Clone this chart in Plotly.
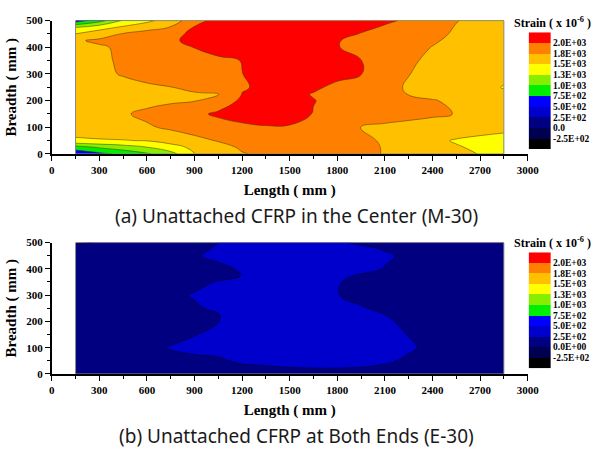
import plotly.graph_objects as go

# ---------------- data ----------------
length_mm = [150, 300, 450, 600, 750, 900, 1050, 1200, 1350, 1500, 1650,
             1800, 1950, 2100, 2250, 2400, 2550, 2700, 2850]

# (a) M-30 : rows follow breadth_top
breadth_top = [0, 25, 50, 100, 150, 200, 225, 250, 300, 350, 400, 425, 450, 475, 500]
strain_m30 = [
    [560, 680, 812, 965, 1158, 1495, 1617, 1735, 1790, 1810, 1820, 1815, 1790, 1741, 1680, 1617, 1555, 1493, 1430],
    [880, 1032, 1137, 1243, 1409, 1555, 1670, 1780, 1830, 1850, 1850, 1830, 1800, 1738, 1665, 1592, 1520, 1460, 1420],
    [1480, 1485, 1490, 1510, 1590, 1680, 1765, 1820, 1860, 1880, 1870, 1840, 1800, 1722, 1640, 1555, 1480, 1440, 1420],
    [1560, 1600, 1660, 1720, 1790, 1860, 1920, 1960, 1985, 1985, 1940, 1850, 1740, 1700, 1670, 1650, 1640, 1600, 1560],
    [1580, 1650, 1725, 1799, 1879, 1958, 2030, 2080, 2100, 2070, 1993, 1950, 1910, 1868, 1826, 1785, 1743, 1710, 1680],
    [1600, 1620, 1650, 1680, 1710, 1735, 1897, 2030, 2060, 2050, 2005, 1958, 1910, 1860, 1810, 1763, 1710, 1680, 1660],
    [1610, 1630, 1655, 1680, 1700, 1720, 1725, 2005, 2050, 2045, 1991, 1929, 1867, 1805, 1743, 1690, 1660, 1630, 1560],
    [1620, 1640, 1680, 1720, 1745, 1827, 1905, 1982, 2040, 2060, 2030, 1960, 1885, 1808, 1730, 1680, 1650, 1620, 1480],
    [1620, 1700, 1766, 1812, 1859, 1905, 1952, 1998, 2060, 2100, 2090, 2050, 2005, 1877, 1755, 1690, 1650, 1620, 1600],
    [1640, 1720, 1773, 1820, 1865, 1910, 1960, 2005, 2080, 2120, 2100, 2060, 2003, 1890, 1780, 1710, 1670, 1640, 1620],
    [1650, 1720, 1794, 1865, 1935, 2005, 2080, 2150, 2200, 2180, 2100, 2008, 1941, 1875, 1810, 1745, 1700, 1670, 1640],
    [1720, 1790, 1851, 1913, 1975, 2040, 2110, 2170, 2210, 2210, 2150, 2010, 1948, 1889, 1829, 1770, 1710, 1680, 1650],
    [1505, 1639, 1768, 1855, 1945, 2040, 2110, 2170, 2220, 2230, 2180, 2090, 1987, 1920, 1855, 1790, 1730, 1690, 1660],
    [1245, 1400, 1537, 1650, 1760, 2015, 2100, 2180, 2230, 2230, 2200, 2120, 2060, 1974, 1895, 1818, 1740, 1680, 1650],
    [600, 900, 1283, 1445, 1619, 1890, 2100, 2150, 2200, 2200, 2180, 2130, 2080, 2040, 1967, 1860, 1757, 1700, 1660],
]

# (b) E-30 : rows follow breadth_bot
breadth_bot = [0, 25, 50, 100, 150, 200, 225, 250, 300, 350, 375, 400, 450, 475, 500]
strain_e30 = [
    [80, 90, 100, 110, 120, 125, 130, 135, 140, 145, 145, 140, 135, 130, 125, 120, 115, 110, 100],
    [100, 110, 115, 120, 125, 135, 150, 175, 205, 248, 262, 262, 245, 190, 140, 125, 120, 115, 110],
    [110, 115, 120, 125, 130, 130, 194, 314, 380, 380, 380, 380, 380, 306, 186, 140, 130, 120, 115],
    [115, 120, 125, 154, 274, 380, 380, 380, 380, 380, 380, 380, 380, 375, 300, 150, 125, 120, 115],
    [115, 120, 120, 125, 130, 234, 354, 380, 380, 380, 380, 380, 380, 345, 240, 135, 125, 120, 115],
    [115, 120, 120, 125, 125, 130, 245, 370, 380, 380, 380, 380, 380, 298, 178, 130, 125, 120, 115],
    [115, 120, 120, 125, 125, 120, 238, 358, 380, 380, 380, 380, 370, 252, 130, 125, 120, 115, 110],
    [115, 120, 120, 125, 125, 202, 322, 380, 380, 380, 380, 380, 282, 162, 125, 120, 120, 115, 110],
    [115, 120, 120, 120, 160, 280, 380, 380, 380, 380, 380, 262, 142, 125, 120, 120, 115, 115, 110],
    [115, 120, 120, 120, 125, 154, 274, 380, 380, 380, 380, 274, 154, 125, 120, 120, 115, 115, 110],
    [115, 120, 120, 120, 125, 125, 138, 258, 378, 380, 380, 338, 218, 125, 120, 120, 115, 115, 110],
    [115, 120, 120, 120, 125, 125, 170, 290, 380, 380, 380, 380, 354, 234, 125, 120, 115, 115, 110],
    [110, 115, 120, 120, 125, 212, 332, 380, 380, 380, 380, 380, 380, 300, 175, 125, 120, 115, 110],
    [100, 115, 120, 120, 125, 170, 290, 380, 380, 380, 380, 380, 345, 225, 130, 125, 120, 115, 110],
    [-20, 10, 110, 120, 120, 126, 246, 366, 380, 380, 380, 301, 181, 125, 120, 120, 115, 115, 110],
]

level_start, level_end, level_step = -250, 2000, 250
band_colors = ["#000000", "#000050", "#000080", "#0000cc", "#0000ff", "#00ee00",
               "#88ee00", "#ffff00", "#ffc000", "#ff8000", "#ff0000"]
legend_labels_top = ["-2.5E+02", "0.0", "2.5E+02", "5.0E+02", "7.5E+02",
                     "1.0E+03", "1.3E+03", "1.5E+03", "1.8E+03", "2.0E+03"]
legend_labels_bot = ["-2.5E+02", "0.0E+00", "2.5E+02", "5.0E+02", "7.5E+02",
                     "1.0E+03", "1.3E+03", "1.5E+03", "1.8E+03", "2.0E+03"]
caption_a = "(a) Unattached CFRP in the Center (M-30)"
caption_b = "(b) Unattached CFRP at Both Ends (E-30)"

# ---------------- helpers ----------------
nb = len(band_colors)
scale = []
for k, c in enumerate(band_colors):
    lo = max(0.0, (k - 0.5) / (nb - 1))
    hi = min(1.0, (k + 0.5) / (nb - 1))
    scale += [[lo, c], [hi, c]]

W, H = 605, 453
def px_x(p): return p / W
def px_y(p): return 1 - p / H

serif = "Liberation Serif"
tickfont = dict(family=serif, size=11, color="black", weight="bold")
titlefont = dict(family=serif, size=15, color="black", weight="bold")

fig = go.Figure()

contour_common = dict(
    colorscale=scale, showscale=False, autocontour=False,
    contours=dict(start=level_start, end=level_end, size=level_step, coloring="fill",
                  showlines=True),
    hoverinfo="skip",
)
fig.add_trace(go.Contour(x=length_mm, y=breadth_top, z=strain_m30, xaxis="x", yaxis="y",
                         line=dict(color="rgba(70,50,0,0.85)", width=0.6, smoothing=1.3),
                         **contour_common))
fig.add_trace(go.Contour(x=length_mm, y=breadth_bot, z=strain_e30, xaxis="x2", yaxis="y2",
                         line=dict(color="rgba(0,0,40,0.9)", width=0.6, smoothing=1.3),
                         **contour_common))

band_idx = list(range(nb))
for xa, ya in (("x3", "y3"), ("x4", "y4")):
    fig.add_trace(go.Heatmap(x=[0], y=band_idx, z=[[k] for k in band_idx], xaxis=xa, yaxis=ya,
                             colorscale=scale, zmin=0, zmax=nb - 1, showscale=False,
                             hoverinfo="skip"))

def main_x(domain_anchor):
    return dict(domain=[px_x(50), px_x(538)], anchor=domain_anchor, range=[0, 3000],
                tick0=0, dtick=300, ticks="outside", ticklen=5, tickwidth=1.3,
                tickcolor="black", showline=True, linewidth=1.6, linecolor="black",
                showgrid=False, zeroline=False, tickfont=tickfont,
                minor=dict(dtick=150, ticks="outside", ticklen=3, tickwidth=1, tickcolor="black"),
                title=dict(text="Length ( mm )", font=titlefont, standoff=10))

def main_y(domain, anchor):
    return dict(domain=domain, anchor=anchor, range=[0, 500], tick0=0, dtick=100,
                ticks="outside", ticklen=5, tickwidth=1.3, tickcolor="black",
                showline=True, linewidth=1.6, linecolor="black", showgrid=False,
                zeroline=False, tickfont=tickfont,
                minor=dict(dtick=50, ticks="outside", ticklen=3, tickwidth=1, tickcolor="black"),
                title=dict(text="Breadth ( mm )", font=titlefont, standoff=6))

def leg_x(anchor):
    return dict(domain=[px_x(539), px_x(562)], anchor=anchor, showticklabels=False,
                showgrid=False, zeroline=False, showline=False, ticks="", fixedrange=True)

def leg_y(domain, anchor, labels):
    return dict(domain=domain, anchor=anchor, side="right", range=[-0.5, nb - 0.5],
                tickvals=[k + 0.5 for k in range(nb - 1)], ticktext=labels,
                ticks="", showgrid=False, zeroline=False, showline=False,
                tickfont=dict(family=serif, size=9.5, color="black", weight="bold"),
                ticklabelstandoff=1)

fig.update_layout(
    width=W, height=H, margin=dict(l=0, r=0, t=0, b=0),
    paper_bgcolor="white", plot_bgcolor="white", showlegend=False,
    xaxis=main_x("y"),
    yaxis=main_y([px_y(152), px_y(15)], "x"),
    xaxis2=main_x("y2"),
    yaxis2=main_y([px_y(378), px_y(243)], "x2"),
    xaxis3=leg_x("y3"),
    yaxis3=leg_y([px_y(147), px_y(27)], "x3", legend_labels_top),
    xaxis4=leg_x("y4"),
    yaxis4=leg_y([px_y(372), px_y(253)], "x4", legend_labels_bot),
)

# frame of the measured region
for xr, yr, ys in (("x", "y", breadth_top), ("x2", "y2", breadth_bot)):
    fig.add_shape(type="rect", xref=xr, yref=yr, x0=length_mm[0], x1=length_mm[-1],
                  y0=ys[0], y1=ys[-1], line=dict(color="#8a8a8a", width=1), layer="above")

for ypx in (17, 243):
    fig.add_annotation(xref="paper", yref="paper", x=px_x(522), y=px_y(ypx),
                       xanchor="left", yanchor="middle", showarrow=False, align="left",
                       text="Strain ( x 10<sup>-6</sup> )",
                       font=dict(family=serif, size=12, color="black", weight="bold"))

for txt, ypx in ((caption_a, 216), (caption_b, 442)):
    fig.add_annotation(xref="paper", yref="paper", x=px_x(301), y=px_y(ypx),
                       xanchor="center", yanchor="middle", showarrow=False, text=txt,
                       font=dict(family="Noto Sans", size=19, color="#1a1a1a"))

fig.write_html("out.html", config={"displayModeBar": False})
